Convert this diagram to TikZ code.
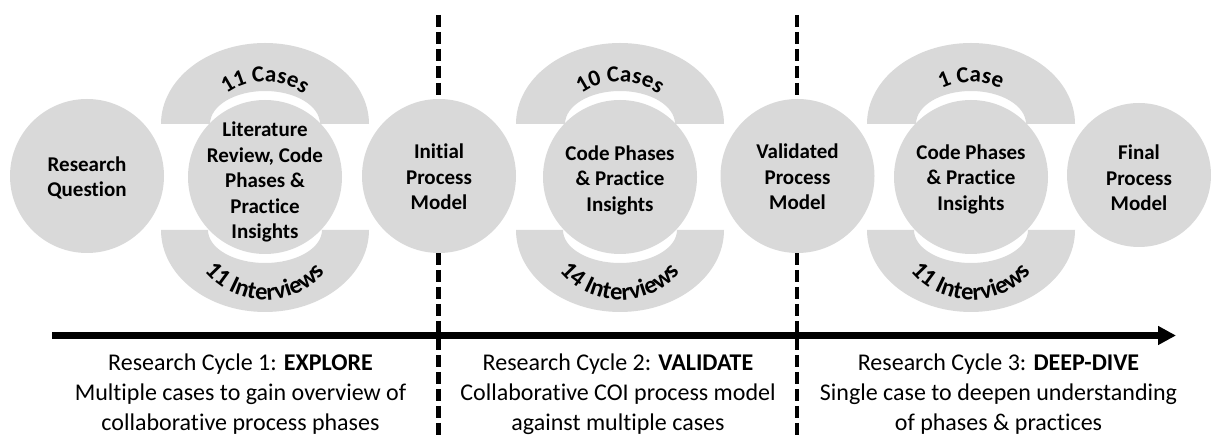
\documentclass[tikz,border=0pt]{standalone}
\usepackage{fontspec}
\setmainfont{Carlito}[Ligatures=NoCommon]
\usetikzlibrary{arrows.meta,decorations.text}
\definecolor{discgray}{HTML}{D9D9D9}
\newcommand\curvefont{\bfseries\fontsize{23}{28}\selectfont}
\newcommand\curvefontb{\bfseries\fontsize{24.5}{29}\selectfont}
\tikzset{
  disc/.style={circle, fill=discgray, minimum size=154pt, inner sep=0pt},
  disclbl/.style={align=center, font=\bfseries\fontsize{21}{25.5}\selectfont, inner sep=0pt},
  ringfill/.style={fill=discgray},
  divider/.style={line width=4.5pt, dash pattern=on 12pt off 5pt},
  timeline/.style={line width=7pt, -{Triangle[length=18pt,width=18pt]}},
  cyclelbl/.style={align=center, font=\fontsize{24}{30}\selectfont, inner sep=0pt},
  curved/.style={decorate, decoration={text along path, text align=center, text={|\curvefont|#1}}},
  curvedb/.style={decorate, decoration={text along path, text align=center, text={|\curvefontb|#1}}},
}
\newcommand\ringpair[4]{%
  \fill[ringfill] (#1-104,312) arc[start angle=180, end angle=0, x radius=104, y radius=81]
     -- (#1+55,312) arc[start angle=0, end angle=180, x radius=55, y radius=33] -- cycle;
  \fill[ringfill] (#1-104,206) arc[start angle=180, end angle=360, x radius=104, y radius=82]
     -- (#1+57,206) arc[start angle=360, end angle=180, x radius=57, y radius=33] -- cycle;
  \path[curved={#2}] (#1,306) ++(165:58 and 48) arc[start angle=165, end angle=15, x radius=58, y radius=48];
  \path[curvedb={#3}] (#1,213) ++(195:78 and 77) arc[start angle=195, end angle=345, x radius=78, y radius=77];
}
\begin{document}
\begin{tikzpicture}[x=1pt,y=1pt]
\useasboundingbox (0,0) rectangle (1211,436);

% dividers
\coordinate (d1top) at (438.5,421);
\coordinate (d1bot) at (438.5,0);
\coordinate (d2top) at (797,421);
\coordinate (d2bot) at (797,0);
\draw[divider] (d1top) -- (d1bot);
\draw[divider] (d2top) -- (d2bot);

% rings
\ringpair{265}{11 Cases}{11 Interviews}{r1}
\ringpair{620}{10 Cases}{14 Interviews}{r2}
\ringpair{971}{1 Case}{11 Interviews}{r3}

% discs
\node[disc] (rq)  at (87,260) {};
\node[disc] (c1)  at (265,259) {};
\node[disc] (ipm) at (439,260) {};
\node[disc] (c2)  at (620,259) {};
\node[disc] (vpm) at (797.5,260) {};
\node[disc] (c3)  at (971,259) {};
\node[disc, minimum size=144pt] (fpm) at (1139,261) {};

\node[disclbl] (rqt)  at (87,258) {Research\\Question};
\node[disclbl] (c1t)  at (265,254) {Literature\\Review, Code\\Phases \&\\Practice\\Insights};
\node[disclbl] (ipmt) at (439,259) {Initial\\Process\\Model};
\node[disclbl] (c2t)  at (620,256) {Code Phases\\\& Practice\\Insights};
\node[disclbl] (vpmt) at (797.5,259) {Validated\\Process\\Model};
\node[disclbl] (c3t)  at (971,257) {Code Phases\\\& Practice\\Insights};
\node[disclbl] (fpmt) at (1139,258) {Final\\Process\\Model};

% timeline
\coordinate (tlstart) at (52,100.5);
\coordinate (tlend) at (1176,100.5);
\draw[timeline] (tlstart) -- (tlend);

% cycle labels
\node[cyclelbl] (cy1) at (240.5,42) {Research Cycle 1: \textbf{EXPLORE}\\Multiple cases to gain overview of\\collaborative process phases};
\node[cyclelbl] (cy2) at (618,42) {Research Cycle 2: \textbf{VALIDATE}\\Collaborative COI process model\\against multiple cases};
\node[cyclelbl] (cy3) at (998.5,42) {Research Cycle 3: \textbf{DEEP-DIVE}\\Single case to deepen understanding\\of phases \& practices};
\end{tikzpicture}
\end{document}
